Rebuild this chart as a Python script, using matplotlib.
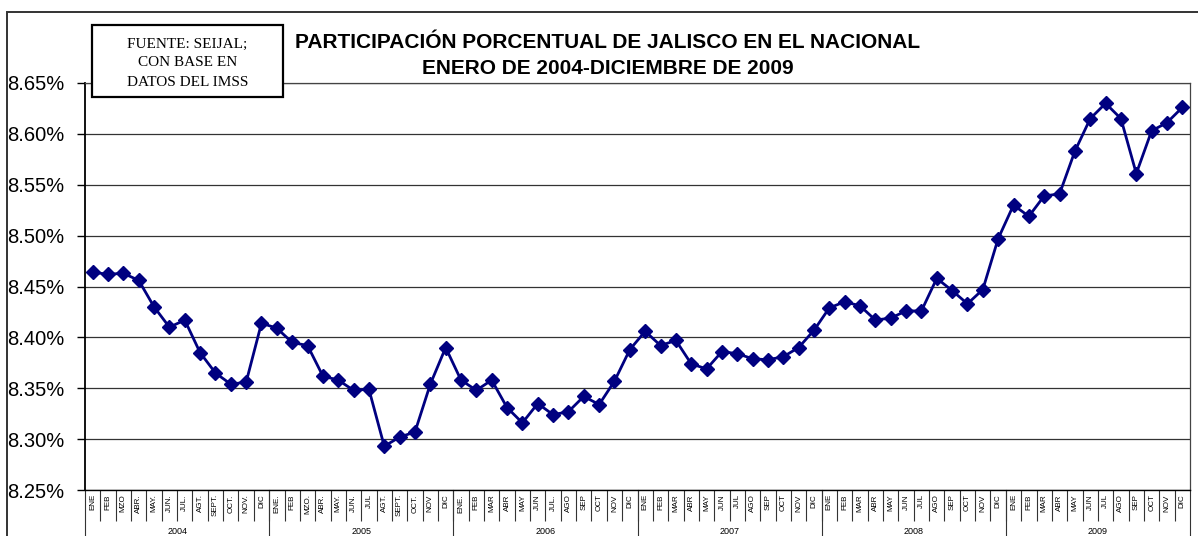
import matplotlib.pyplot as plt
from matplotlib.patches import Rectangle
from matplotlib.ticker import FuncFormatter, FixedLocator

# monthly share of Jalisco in the national total (%), Jan 2004 - Dec 2009
years = ['2004', '2005', '2006', '2007', '2008', '2009']
months = [
    ['ENE', 'FEB', 'MZO', 'ABR.', 'MAY.', 'JUN.', 'JUL.', 'AGT.', 'SEPT.', 'OCT.', 'NOV.', 'DIC'],
    ['ENE.', 'FEB', 'MZO.', 'ABR.', 'MAY.', 'JUN.', 'JUL', 'AGT.', 'SEPT.', 'OCT.', 'NOV', 'DIC'],
    ['ENE.', 'FEB', 'MAR', 'ABR', 'MAY', 'JUN', 'JUL.', 'AGO', 'SEP', 'OCT', 'NOV', 'DIC'],
    ['ENE', 'FEB', 'MAR', 'ABR', 'MAY', 'JUN', 'JUL', 'AGO', 'SEP', 'OCT', 'NOV', 'DIC'],
    ['ENE', 'FEB', 'MAR', 'ABR', 'MAY', 'JUN', 'JUL', 'AGO', 'SEP', 'OCT', 'NOV', 'DIC'],
    ['ENE', 'FEB', 'MAR', 'ABR', 'MAY', 'JUN', 'JUL', 'AGO', 'SEP', 'OCT', 'NOV', 'DIC'],
]
share_2004 = [8.464, 8.462, 8.463, 8.456, 8.430, 8.410, 8.417, 8.385, 8.365, 8.354, 8.356, 8.414]
share_2005 = [8.409, 8.395, 8.392, 8.362, 8.358, 8.348, 8.349, 8.293, 8.302, 8.307, 8.354, 8.390]
share_2006 = [8.358, 8.348, 8.358, 8.331, 8.316, 8.335, 8.324, 8.327, 8.342, 8.334, 8.357, 8.388]
share_2007 = [8.406, 8.392, 8.397, 8.374, 8.369, 8.386, 8.384, 8.379, 8.378, 8.381, 8.390, 8.407]
share_2008 = [8.429, 8.435, 8.431, 8.417, 8.419, 8.426, 8.426, 8.458, 8.446, 8.433, 8.447, 8.497]
share_2009 = [8.530, 8.519, 8.539, 8.541, 8.583, 8.615, 8.630, 8.615, 8.561, 8.603, 8.611, 8.626]

share = share_2004 + share_2005 + share_2006 + share_2007 + share_2008 + share_2009
month_labels = [m for yr in months for m in yr]
x = list(range(len(share)))

W, H = 1198, 536
fig = plt.figure(figsize=(W / 100, H / 100), dpi=100)
ax = fig.add_axes([85 / W, (H - 490) / H, (1190 - 85) / W, (490 - 83) / H])

# outer chart border
fig.patches.append(Rectangle((7 / W, -0.1), 1.2, (H - 12) / H + 0.1, transform=fig.transFigure,
                             fill=False, edgecolor='#333333', linewidth=1.4))

ax.plot(x, share, color='#000080', linewidth=2.0, marker='D', markersize=7.0,
        markerfacecolor='#000080', markeredgecolor='#000080', zorder=3)

ax.set_xlim(-0.5, len(share) - 0.5)
ax.set_ylim(8.25, 8.65)
yt = [8.25 + 0.05 * i for i in range(9)]
ax.set_yticks(yt)
ax.yaxis.set_major_formatter(FuncFormatter(lambda v, p: f'{v:.2f}%'))
ax.tick_params(axis='y', direction='out', length=6, width=1, labelsize=14.5, pad=9)
for lab in ax.get_yticklabels():
    lab.set_fontfamily('Liberation Sans')
ax.grid(axis='y', color='#333333', linewidth=0.9)
ax.set_axisbelow(True)

# month labels + separators
ax.set_xticks(x)
ax.set_xticklabels(month_labels, rotation=90, fontsize=5.8, fontfamily='Liberation Sans', va='top')
ax.tick_params(axis='x', which='major', length=0, pad=3)
ax.xaxis.set_minor_locator(FixedLocator([i + 0.5 for i in range(len(share) - 1)]))
ax.tick_params(axis='x', which='minor', length=22, width=0.8, color='#333333')
xt = ax.get_xaxis_transform()
for k in range(len(years) + 1):
    ax.plot([12 * k - 0.5, 12 * k - 0.5], [0, -0.15], transform=xt, color='#333333',
            linewidth=0.8, clip_on=False)
for k, yr in enumerate(years):
    ax.text(12 * k + 5.5, -0.102, yr, transform=xt, ha='center', va='center', fontsize=6.5,
            fontfamily='Liberation Sans')

for side in ['top', 'right']:
    ax.spines[side].set_color('#444444')
    ax.spines[side].set_linewidth(0.9)
ax.spines['left'].set_linewidth(1.3)
ax.spines['bottom'].set_linewidth(1.0)

fig.text(608 / W, 1 - 42 / H, 'PARTICIPACIÓN PORCENTUAL DE JALISCO EN EL NACIONAL', ha='center', va='center',
         fontsize=15, fontweight='bold', fontfamily='Liberation Sans')
fig.text(608 / W, 1 - 68 / H, 'ENERO DE 2004-DICIEMBRE DE 2009', ha='center', va='center',
         fontsize=15, fontweight='bold', fontfamily='Liberation Sans')

# source note box
fig.patches.append(Rectangle((92 / W, 1 - 97 / H), (283 - 92) / W, (97 - 25) / H, transform=fig.transFigure,
                             facecolor='white', edgecolor='black', linewidth=1.6, zorder=5))
fig.text(187.5 / W, 1 - 63 / H, 'FUENTE: SEIJAL;\nCON BASE EN\nDATOS DEL IMSS', ha='center', va='center',
         fontsize=11, fontfamily='Liberation Serif', linespacing=1.6, zorder=6)

fig.savefig('out.png', dpi=100)
